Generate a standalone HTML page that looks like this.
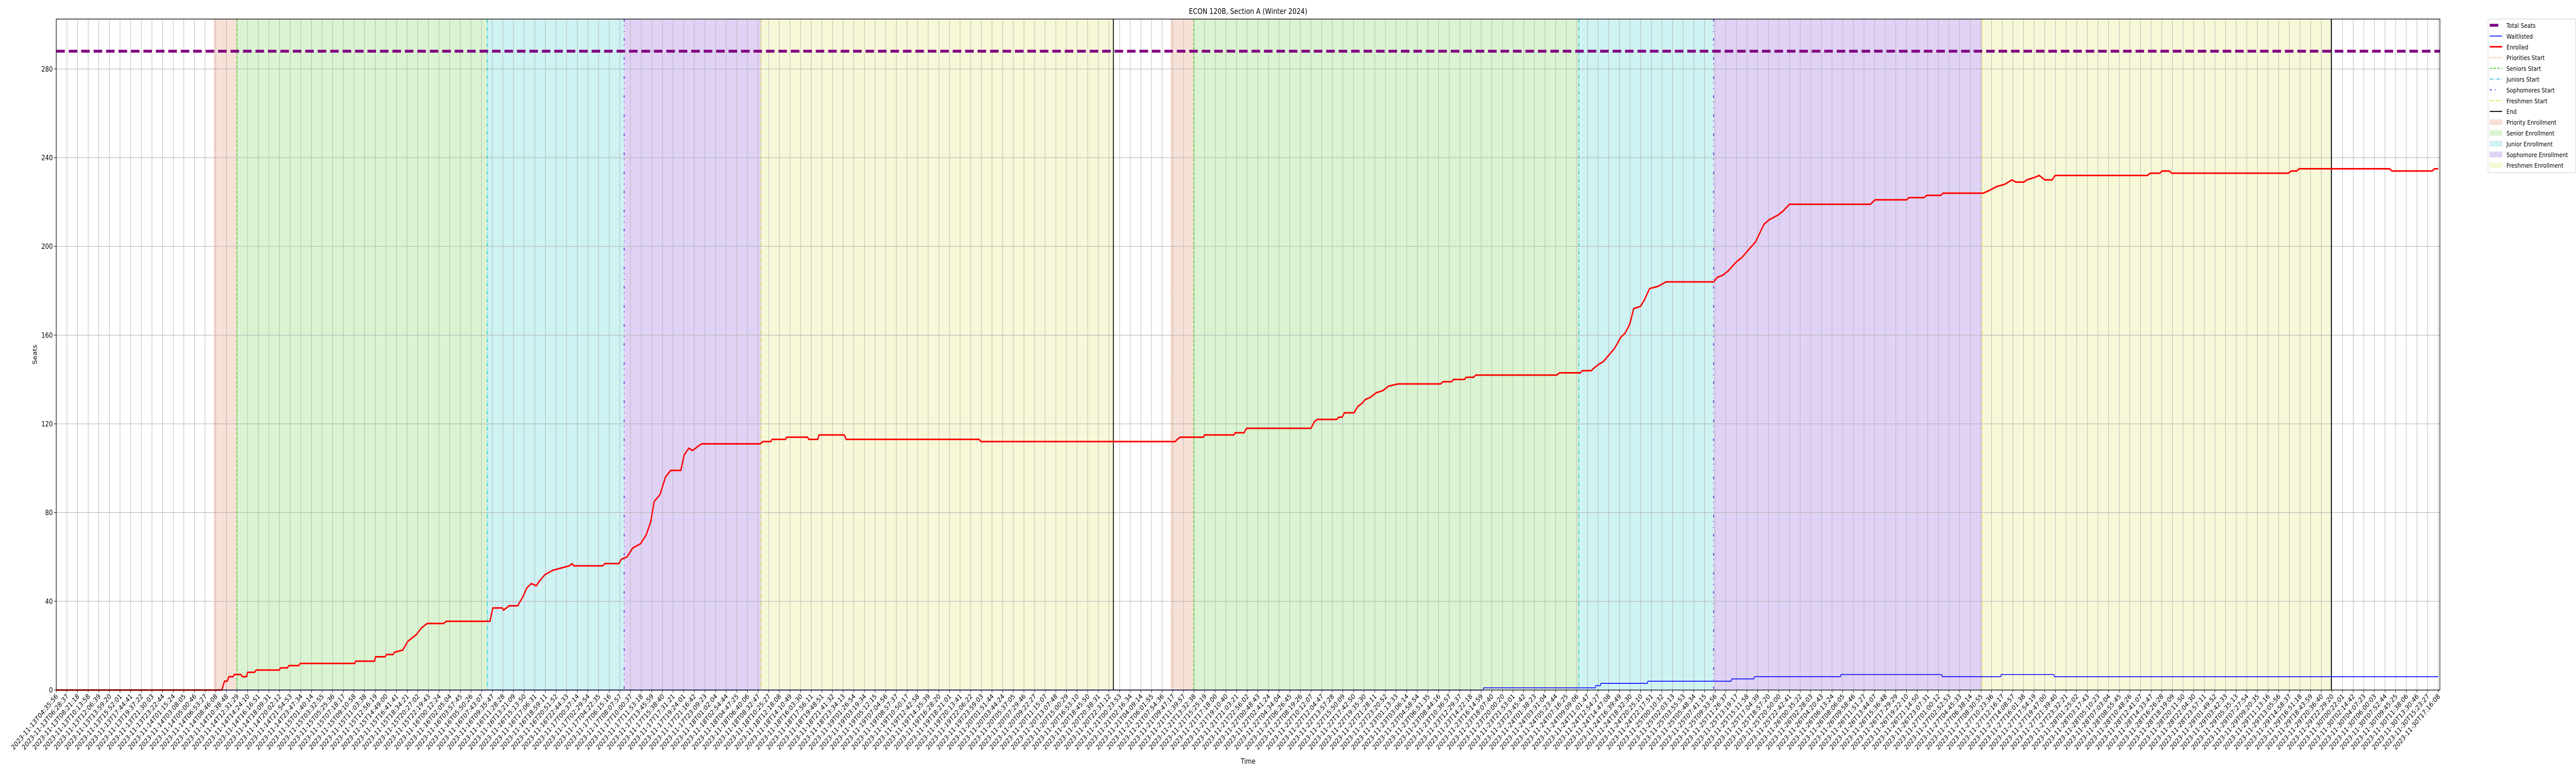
<!DOCTYPE html>
<html><head><meta charset="utf-8"><meta name="viewport" content="width=6000">
<style>
html,body{margin:0;padding:0;background:#fff;width:100%;height:100%;overflow:hidden;}
svg{display:block;width:100vw;height:100vh;font-family:"DejaVu Sans","Liberation Sans",sans-serif;}
</style></head><body>
<svg id="chart" viewBox="0 0 6000 1500" preserveAspectRatio="none" xmlns="http://www.w3.org/2000/svg" overflow="hidden">
<rect x="0" y="0" width="6000" height="1500" fill="#fff"/>
<g id="spans"></g><g id="grid"></g><g id="vlines"></g><g id="series"></g><g id="axes"></g><g id="legend"></g>
<text x="2907" y="27" font-size="15" text-anchor="middle" fill="#000">ECON 120B, Section A (Winter 2024)</text>
<text x="2907" y="1482" font-size="14" text-anchor="middle" fill="#000">Time</text>
<text transform="translate(86,688) rotate(-90)" font-size="14" text-anchor="middle" fill="#000">Seats</text>
</svg>
<script>
// ---- data (x = hours since 2023-11-13T04:35:56) ----
const totalSeats = 288;
const enrolledHours = [0,29.24,29.72,30.2,30.5,31.2,31.46,32.6,32.9,33.6,33.8,35.0,35.3,39.4,39.6,40.8,41.1,42.8,43.1,52.7,52.9,56.2,56.4,58.1,58.3,59.5,59.7,61.2,62.1,63.6,64.5,65.5,68.4,68.9,76.6,77.1,78.8,79.0,80.0,81.5,82.4,83.1,83.9,84.8,85.3,86.3,87.7,89.2,90.6,91.1,91.4,96.5,96.9,99.4,99.8,100.8,101.8,103.2,104.2,105.0,105.6,106.6,107.6,108.5,110.3,110.9,111.7,112.4,113.4,114.0,124.3,124.8,126.2,126.4,128.8,129.0,132.7,132.9,134.5,134.7,139.2,139.5,163.0,163.3,197.6,198.0,198.5,202.6,202.8,208.0,208.2,209.8,210.2,221.6,222.2,222.7,226.1,226.5,227.1,227.5,229.2,229.9,230.5,231.2,232.1,233.1,234.3,235.3,237.0,244.5,244.9,246.4,246.8,248.7,249.0,250.3,250.7,265.0,265.5,269.2,269.5,271.1,271.5,272.5,273.2,274.2,275.2,276.3,277.1,277.9,278.6,279.8,280.5,281.4,282.9,284.3,292.7,293.35,294.3,295.3,296.7,297.7,298.7,300.1,301.6,302.5,304.0,305.0,306.1,320.4,321.2,326.8,327.2,329.9,330.3,332.8,333.2,340.3,341.2,342.7,344.1,345.4,346.1,347.5,348.0,349.3,350.2,351.2,352.5,353.0,369.3,369.8,371.5,371.9,373.2,373.6,394.2,394.7,395.7,396.1,412.1,412.5,419.6,420.0,420.67];
const enrolledValues = [0,0,4,4,6,6,7,7,6,6,8,8,9,9,10,10,11,11,12,12,13,13,15,15,16,16,17,18,22,25,28,30,30,31,31,37,37,36,38,38,42,46,48,47,49,52,54,55,56,57,56,56,57,57,59,60,64,66,70,76,85,88,96,99,99,106,109,108,110,111,111,112,112,113,113,114,114,113,113,115,115,113,113,112,112,113,114,114,115,115,116,116,118,118,121,122,122,123,123,125,125,128,129,131,132,134,135,137,138,138,139,139,140,140,141,141,142,142,143,143,144,144,145,147,148,151,154,159,161,165,172,173,176,181,182,184,184,186,187,189,193,195,198,202,210,212,214,216,219,219,221,221,222,222,223,223,224,224,225,227,228,230,229,229,230,231,232,230,230,232,232,233,233,234,234,233,233,234,234,235,235,234,234,235,235];
const waitHours = [0,252.0,252.1,271.8,271.9,272.7,272.8,281.0,281.1,295.8,295.9,299.8,299.9,315.1,315.2,333.0,333.1,343.4,343.5,352.8,352.9,420.67];
const waitValues = [0,0,1,1,2,2,3,3,4,4,5,5,6,6,7,7,6,6,7,7,6,6];
const phaseNames = ["priority","senior","junior","sophomore","freshmen"];
const round1Starts = [27.9,31.9,76.1,100.3,124.5];
const round1End = 186.7;
const round2Starts = [196.9,200.9,268.9,292.7,340.1];
const round2End = 401.8;
const yTicks = [0,40,80,120,160,200,240,280];
const xTickStartMs = Date.UTC(2023,10,13,4,35,56);
const xTickCount = 225;
const xTickStepHours = 420.67/224;

// ---- scales ----
const L=131,R=5683,T=37,B=1339;
const X_MAX=420.97, Y_MAX=302.5;
const sx=h=>L+(h/X_MAX)*(R-L);
const sy=v=>B-(v/Y_MAX)*(B-T);
const NS="http://www.w3.org/2000/svg";
function mk(tag,attrs,parent){const e=document.createElementNS(NS,tag);for(const k in attrs)e.setAttribute(k,attrs[k]);parent.appendChild(e);return e;}
const gSpans=document.getElementById('spans'),gGrid=document.getElementById('grid'),gV=document.getElementById('vlines'),gS=document.getElementById('series'),gA=document.getElementById('axes'),gL=document.getElementById('legend');

const fills={priority:"#f7e1d7",senior:"#daf4d2",junior:"#cff2f3",sophomore:"#e0d2f5",freshmen:"#f7f8d8"};
const lineStyle={
 priority:{stroke:"#ee6a35",dash:"1.5,3",w:1.6},
 senior:{stroke:"#33cc11",dash:"6,3",w:1.6},
 junior:{stroke:"#11bfcc",dash:"8,3,1.5,3",w:1.6},
 sophomore:{stroke:"#6a22dd",dash:"5,7,1.5,10,1.5,12",w:2},
 freshmen:{stroke:"#dede30",dash:"8,3,1.5,3",w:1.6}
};
function drawRound(starts,end,idx){
 for(let i=0;i<starts.length;i++){
  const a=starts[i],b=(i<starts.length-1)?starts[i+1]:end;
  const r=mk('rect',{x:sx(a),y:T,width:sx(b)-sx(a),height:B-T,fill:fills[phaseNames[i]]},gSpans);
  
  
 }
 for(let i=0;i<starts.length;i++){
  const st=lineStyle[phaseNames[i]];
  const l=mk('line',{x1:sx(starts[i]),x2:sx(starts[i]),y1:T,y2:B,stroke:st.stroke,'stroke-width':st.w,'stroke-dasharray':st.dash},gV);
  
  
 }
 const e=mk('line',{x1:sx(end),x2:sx(end),y1:T,y2:B,stroke:"#000",'stroke-width':2},gV);
 
 
}
drawRound(round1Starts,round1End,1);
drawRound(round2Starts,round2End,2);

// grid + ticks
function pad(n){return String(n).padStart(2,'0');}
for(let i=0;i<xTickCount;i++){
 const h=i*xTickStepHours;const x=sx(h);
 const g=mk('line',{x1:x,x2:x,y1:T,y2:B,stroke:"#b0b0b0",'stroke-width':1},gGrid);
 
 
 mk('line',{x1:x,x2:x,y1:B,y2:B+5,stroke:"#000",'stroke-width':1},gA);
 const d=new Date(xTickStartMs+Math.round(h*3600)*1000);
 const lab=d.getUTCFullYear()+'-'+pad(d.getUTCMonth()+1)+'-'+pad(d.getUTCDate())+'T'+pad(d.getUTCHours())+':'+pad(d.getUTCMinutes())+':'+pad(d.getUTCSeconds());
 const t=mk('text',{transform:`translate(${x+5},${B+13}) rotate(-45)`,'font-size':13.5,'text-anchor':'end',fill:'#000'},gA);
 t.textContent=lab;
 
 
}
for(const v of yTicks){
 const y=sy(v);
 const g=mk('line',{x1:L,x2:R,y1:y,y2:y,stroke:"#b0b0b0",'stroke-width':1},gGrid);
 
 
 mk('line',{x1:L-5,x2:L,y1:y,y2:y,stroke:"#000",'stroke-width':1},gA);
 const t=mk('text',{x:L-8,y:y+5,'font-size':14,'text-anchor':'end',fill:'#000'},gA);
 t.textContent=v;
 
 
}

// series
const ts=mk('line',{x1:L,x2:R,y1:sy(totalSeats),y2:sy(totalSeats),stroke:"#800080",'stroke-width':5.5,'stroke-dasharray':"20,9"},gS);


const wp=mk('polyline',{points:waitHours.map((h,i)=>sx(h)+','+sy(waitValues[i])).join(' '),fill:'none',stroke:'#0000ff','stroke-width':1.6},gS);


const ep=mk('polyline',{points:enrolledHours.map((h,i)=>sx(h)+','+sy(enrolledValues[i])).join(' '),fill:'none',stroke:'#ff0000','stroke-width':3,'stroke-linejoin':'round'},gS);



// frame
const fr=mk('rect',{x:L,y:T,width:R-L,height:B-T,fill:'none',stroke:'#000','stroke-width':1.3},gA);



// legend
const lb=mk('rect',{x:5795,y:37,width:204,height:298,rx:3,fill:'#fff',stroke:'#cccccc','stroke-width':1},gL);


const legendLabels=["Total Seats","Waitlisted","Enrolled","Priorities Start","Seniors Start","Juniors Start","Sophomores Start","Freshmen Start","End","Priority Enrollment","Senior Enrollment","Junior Enrollment","Sophomore Enrollment","Freshmen Enrollment"];
const legendStyles=[
 {c:"#800080",w:5.5,d:"20,9"},{c:"#0000ff",w:1.6,d:""},{c:"#ff0000",w:3,d:""},
 {c:lineStyle.priority.stroke,w:1.6,d:"1.5,3"},{c:lineStyle.senior.stroke,w:1.6,d:"6,3"},
 {c:lineStyle.junior.stroke,w:1.6,d:"8,3,1.5,3"},{c:lineStyle.sophomore.stroke,w:2,d:"5,7,1.5,20"},
 {c:lineStyle.freshmen.stroke,w:1.6,d:"8,3,1.5,3"},{c:"#000",w:2,d:""},
 {f:fills.priority},{f:fills.senior},{f:fills.junior},{f:fills.sophomore},{f:fills.freshmen}];
for(let i=0;i<legendLabels.length;i++){
 const y=49+i*20.9;const s=legendStyles[i];
 const g=mk('g',{},gL);
 
 
 if(s.f){mk('rect',{x:5799,y:y-5,width:29,height:10,fill:s.f,stroke:s.f},g);}
 else{const a={x1:5799,x2:5828,y1:y,y2:y,stroke:s.c,'stroke-width':s.w};if(s.d)a['stroke-dasharray']=s.d;mk('line',a,g);}
 const t=mk('text',{x:5838,y:y+5,'font-size':12.5,fill:'#000'},g);
 t.textContent=legendLabels[i];
}
</script>
</body></html>
